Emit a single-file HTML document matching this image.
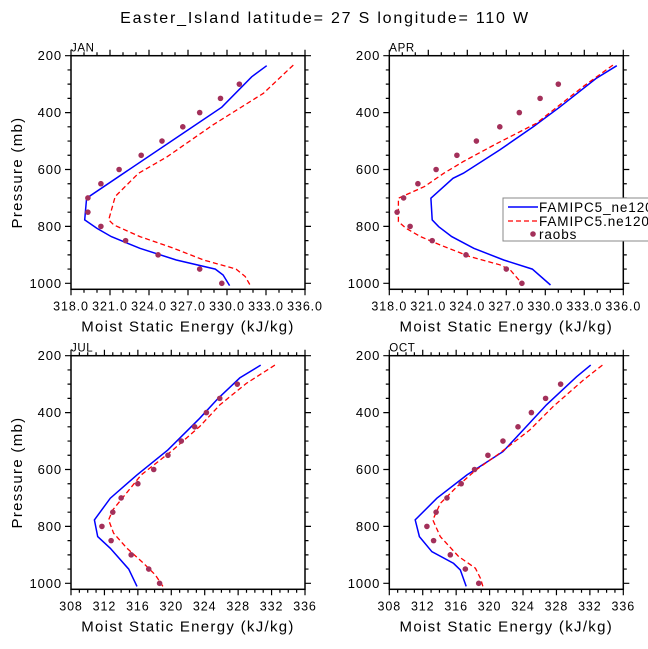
<!DOCTYPE html>
<html><head><meta charset="utf-8">
<style>
html,body{margin:0;padding:0;background:#fff;}
svg{display:block;font-family:"Liberation Sans","DejaVu Sans",sans-serif;}
</style></head>
<body>
<svg id="chart" width="648" height="649" viewBox="0 0 648 649" xmlns="http://www.w3.org/2000/svg">
<text x="325" y="23" font-size="16" text-anchor="middle" letter-spacing="1.8" fill="#000">Easter_Island  latitude= 27 S longitude= 110 W</text>
</svg>
<script>
// ---- data ----
const panelNames = ["JAN","APR","JUL","OCT"];
const yTicks = [200,400,600,800,1000];
const xTicksTop = [318,321,324,327,330,333,336];
const xTicksBot = [308,312,316,320,324,328,332,336];
const obsP = [300,350,400,450,500,550,600,650,700,750,800,850,900,950,1000];

const janBlueX = [333.05,331.9,329.6,319.2,319.05,320,321.1,323.3,326.1,329.1,329.7,330.2];
const janBlueP = [235,274,381,701,777,807,836,877,918,950,971,1008];
const janRedX = [335.1,332.8,328.9,325.4,323.2,321.4,320.9,321.3,323.3,325.9,328.2,330.7,331.4,331.8];
const janRedP = [233,332,444,555,613,695,777,795,836,877,918,950,976,1008];
const janObs = [330.95,329.5,327.9,326.6,325.0,323.4,321.7,320.3,319.3,319.3,320.3,322.2,324.7,327.9,329.6];

const aprBlueX = [335.5,333.9,331.1,329.1,326.5,323.7,322.9,321.2,321.3,321.8,322.8,324.5,326.8,329.0,330.4];
const aprBlueP = [235,280,381,449,531,613,631,701,777,801,836,877,918,950,1006];
const aprRedX = [335.2,332.9,329.3,326.3,323.7,322.2,320.7,318.7,318.7,319.3,320.4,321.9,324.2,326.5,327.3,328.3];
const aprRedP = [233,309,438,508,572,613,660,701,783,807,836,865,906,935,953,1006];
const aprObs = [331.0,329.6,328.0,326.5,324.7,323.2,321.6,320.2,319.1,318.6,319.6,321.3,323.9,327.0,328.2];

const julBlueX = [330.7,328.2,325.6,323.4,319.6,315.9,312.7,310.8,311.2,312.7,314.9,315.9];
const julBlueP = [233,278,350,420,531,619,701,777,836,877,950,1011];
const julRedX = [332.4,329,325.8,323.4,320.2,316.4,314.6,313,312.5,313.1,314.7,316.7,318.1,319];
const julRedP = [233,297,373,449,531,619,684,742,777,824,877,930,971,1011];
const julObs = [327.9,325.8,324.2,322.8,321.2,319.6,317.9,316,314,313,311.7,312.8,315.2,317.3,318.6];

const octBlueX = [332.1,330.4,326.8,324.4,321.6,317.3,313.7,311.1,311.6,313.1,315.7,316.5,317.2];
const octBlueP = [233,274,373,449,537,619,701,777,836,889,930,953,1011];
const octRedX = [333.5,331.2,327.6,324.8,321.2,318.4,316.1,314.1,313.2,314.1,316.3,318.3,318.9,319.2];
const octRedP = [233,286,379,461,543,601,660,719,777,836,906,947,982,1011];
const octObs = [328.5,326.7,325,323.4,321.6,319.8,318.2,316.6,314.9,313.6,312.5,313.3,315.3,317.1,318.7];

const legendLabels = ["FAMIPC5_ne120_","FAMIPC5.ne120.","raobs"];

// ---- drawing ----
const NS = "http://www.w3.org/2000/svg";
const svg = document.getElementById("chart");
function mk(tag, attrs, parent){const e=document.createElementNS(NS,tag);for(const k in attrs)e.setAttribute(k,attrs[k]);(parent||svg).appendChild(e);return e;}

const panels = [
 {name:panelNames[0],x0:71,x1:305,y0:0,xmin:318,xmax:336,ticks:xTicksTop,dec:1,bX:janBlueX,bP:janBlueP,rX:janRedX,rP:janRedP,obs:janObs,ylab:true},
 {name:panelNames[1],x0:389.3,x1:623.3,y0:0,xmin:318,xmax:336,ticks:xTicksTop,dec:1,bX:aprBlueX,bP:aprBlueP,rX:aprRedX,rP:aprRedP,obs:aprObs,ylab:false},
 {name:panelNames[2],x0:71,x1:305,y0:300,xmin:308,xmax:336,ticks:xTicksBot,dec:0,bX:julBlueX,bP:julBlueP,rX:julRedX,rP:julRedP,obs:julObs,ylab:true},
 {name:panelNames[3],x0:389.3,x1:623.3,y0:300,xmin:308,xmax:336,ticks:xTicksBot,dec:0,bX:octBlueX,bP:octBlueP,rX:octRedX,rP:octRedP,obs:octObs,ylab:false}
];

panels.forEach(pn=>{
  const g = mk("g",{});
  
  
  const top = 55.7+pn.y0, bot = 289.3+pn.y0;
  const sx = v => pn.x0 + (v-pn.xmin)/(pn.xmax-pn.xmin)*(pn.x1-pn.x0);
  const sy = p => top + (p-200)/(1000-200)*(283.3-55.7);
  let d="";
  for(let v=pn.xmin; v<=pn.xmax+1e-6; v+=1){
    const major = pn.ticks.some(t=>Math.abs(t-v)<1e-6);
    const L = major?6:3.5, x=sx(v);
    d+=`M${x},${bot}v${L}M${x},${top}v${-L}`;
  }
  for(let p=200;p<=1000;p+=50){
    const major = yTicks.includes(p);
    const L = major?6:3.5, y=sy(p);
    d+=`M${pn.x0},${y}h${-L}M${pn.x1},${y}h${L}`;
  }
  const tk=mk("path",{d:d,stroke:"#000","stroke-width":1.2,fill:"none"},g);
  
  
  const fr=mk("rect",{x:pn.x0,y:top,width:pn.x1-pn.x0,height:bot-top,fill:"none",stroke:"#000","stroke-width":1.5},g);
  
  
  pn.ticks.forEach(t=>{
    const tx=mk("text",{x:sx(t),y:bot+21,"font-size":12.5,"text-anchor":"middle","letter-spacing":"0.9"},g);
    tx.textContent = t.toFixed(pn.dec);
    
    
  });
  yTicks.forEach(p=>{
    const ty=mk("text",{x:pn.x0-9,y:sy(p)+4.5,"font-size":13,"text-anchor":"end","letter-spacing":"0.9"},g);
    ty.textContent = p;
    
    
  });
  const xt=mk("text",{x:(pn.x0+pn.x1)/2,y:bot+42,"font-size":15,"text-anchor":"middle","letter-spacing":"1.3"},g);
  xt.textContent="Moist Static Energy (kJ/kg)";
  
  
  if(pn.ylab){
    const yt=mk("text",{x:0,y:0,"font-size":15,"text-anchor":"middle","letter-spacing":"1.3",transform:`translate(22,${(top+bot)/2}) rotate(-90)`},g);
    yt.textContent="Pressure (mb)";
    
    
  }
  const pl=mk("text",{x:pn.x0,y:top-4,"font-size":11.5,"letter-spacing":"0.6"},g);
  pl.textContent=pn.name;
  
  
  const line=(xs,ps)=>xs.map((v,i)=>`${sx(v).toFixed(1)},${sy(ps[i]).toFixed(1)}`).join(" ");
  const bl=mk("polyline",{points:line(pn.bX,pn.bP),fill:"none",stroke:"#0000ff","stroke-width":1.5},g);
  
  
  const rl=mk("polyline",{points:line(pn.rX,pn.rP),fill:"none",stroke:"#ff0000","stroke-width":1.3,"stroke-dasharray":"5,3"},g);
  
  
  pn.obs.forEach((v,i)=>{
    const c=mk("circle",{cx:sx(v),cy:sy(obsP[i]),r:2.8,fill:"#a3305a"},g);
    
    
  });
});

// legend
const lg = mk("g",{});


const lr=mk("rect",{x:503,y:198,width:150,height:43,fill:"#fff",stroke:"#888","stroke-width":1},lg);


const ly=[207,221,234];
const ll1=mk("line",{x1:508,y1:ly[0],x2:538,y2:ly[0],stroke:"#0000ff","stroke-width":1.5},lg);


const ll2=mk("line",{x1:508,y1:ly[1],x2:538,y2:ly[1],stroke:"#ff0000","stroke-width":1.3,"stroke-dasharray":"5,3"},lg);


const lc=mk("circle",{cx:533,cy:ly[2],r:2.8,fill:"#a3305a"},lg);


legendLabels.forEach((t,i)=>{
  const tx=mk("text",{x:539,y:ly[i]+5,"font-size":13.5,"letter-spacing":"0.9"},lg);
  tx.textContent=t;
  
  
});
</script>
</body></html>
